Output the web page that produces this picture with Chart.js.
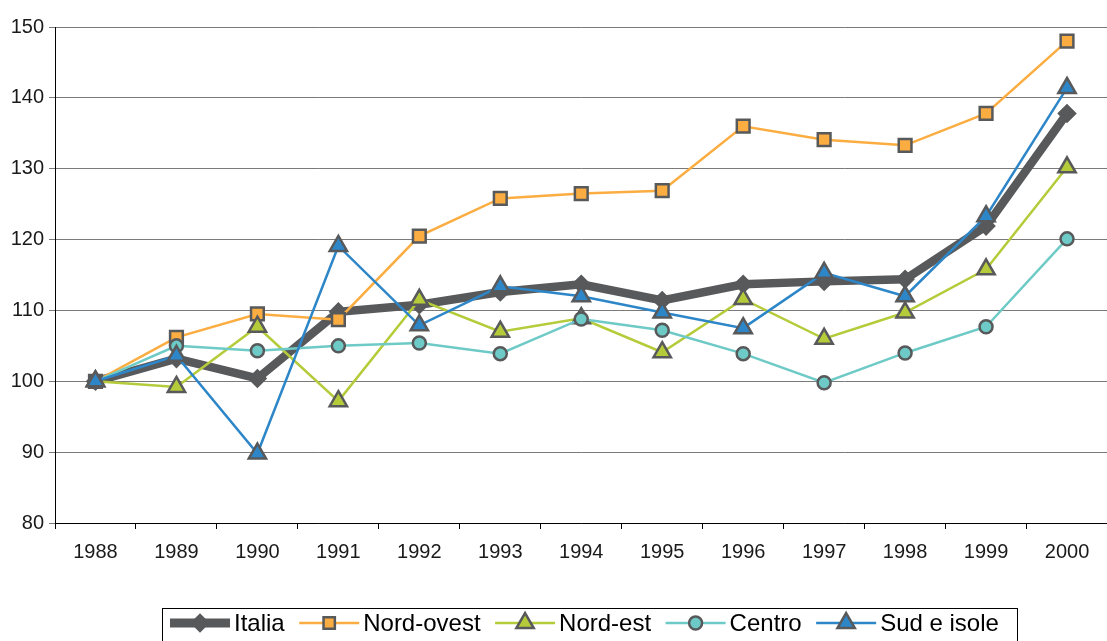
<!DOCTYPE html>
<html>
<head>
<meta charset="utf-8">
<script src="https://cdn.jsdelivr.net/npm/chart.js@4"></script>
<style>
    body { margin: 0; background: #fff; overflow: hidden; }
    #wrap { width: 1120px; height: 641px; position: relative; }
</style>
</head>
<body>
<div id="wrap"><canvas id="chart"></canvas></div>
<script>
// Indici 1988 = 100
const years = ['1988', '1989', '1990', '1991', '1992', '1993', '1994', '1995', '1996', '1997', '1998', '1999', '2000'];
const italia    = [100, 103.2, 100.4, 109.8, 110.8, 112.6, 113.7, 111.4, 113.7, 114.1, 114.4, 121.9, 137.8];
const nordOvest = [100, 106.2, 109.5, 108.7, 120.5, 125.8, 126.5, 126.9, 136.0, 134.1, 133.3, 137.8, 148.0];
const nordEst   = [100, 99.2, 107.7, 97.2, 111.5, 107.0, 108.9, 104.1, 111.6, 106.0, 109.7, 115.8, 130.2];
const centro    = [100, 105.0, 104.3, 105.0, 105.4, 103.9, 108.8, 107.2, 103.9, 99.8, 104.0, 107.7, 120.1];
const sudIsole  = [100, 103.6, 89.8, 119.1, 107.9, 113.4, 112.0, 109.7, 107.5, 115.3, 112.0, 123.3, 141.4];
const yTicks = [80, 90, 100, 110, 120, 130, 140, 150];

const edge = '#58595b';
const font = "'Liberation Sans', Arial, sans-serif";

function series(label, data, color, style, radius, width, order) {
    return {
        label, data, order,
        borderColor: color,
        borderWidth: width,
        pointStyle: style,
        pointRadius: radius,
        pointHoverRadius: radius,
        pointBackgroundColor: style === 'rectRot' ? edge : color,
        pointBorderColor: edge,
        pointBorderWidth: 2.5,
        tension: 0
    };
}

// legend drawn like the spreadsheet one: line sample with marker in the middle
const boxLegend = {
    id: 'boxLegend',
    afterDraw(chart) {
        const ctx = chart.ctx;
        const sets = chart.data.datasets;
        const y = 623;
        ctx.save();
        ctx.font = '24px ' + font;
        const sample = 60, gapText = 4, gapItem = 14.5;
        let x = 170;
        const start = x;
        sets.forEach(ds => {
            ctx.strokeStyle = ds.borderColor;
            ctx.lineWidth = ds.label === 'Italia' ? 9 : ds.borderWidth;
            ctx.beginPath();
            ctx.moveTo(x, y);
            ctx.lineTo(x + sample, y);
            ctx.stroke();
            ctx.fillStyle = ds.pointBackgroundColor;
            ctx.strokeStyle = ds.pointBorderColor;
            ctx.lineWidth = ds.pointBorderWidth;
            const r = ds.pointStyle === 'rect' ? 8 : ds.pointRadius;
            Chart.helpers.drawPoint(ctx, { pointStyle: ds.pointStyle, radius: r, borderWidth: ds.pointBorderWidth, rotation: 0 }, x + sample / 2, y);
            x += sample + gapText;
            ctx.fillStyle = '#000';
            ctx.textBaseline = 'middle';
            ctx.fillText(ds.label, x, y + 1);
            x += ctx.measureText(ds.label).width + gapItem;
        });
        ctx.strokeStyle = '#000';
        ctx.lineWidth = 1;
        ctx.strokeRect(start - 7.5, 608.5, Math.round(x - gapItem + 19 - start + 7), 40);
        ctx.restore();
    }
};

const chart = new Chart(document.getElementById('chart'), {
    type: 'line',
    data: {
        labels: years,
        datasets: [
            series('Italia', italia, edge, 'rectRot', 8, 8.5, 5),
            series('Nord-ovest', nordOvest, '#fbad42', 'rect', 9, 2.5, 4),
            series('Nord-est', nordEst, '#b5cb3a', 'triangle', 10, 2.5, 3),
            series('Centro', centro, '#6ecac6', 'circle', 6.5, 2.5, 2),
            series('Sud e isole', sudIsole, '#2d86c8', 'triangle', 10, 2.5, 1)
        ]
    },
    options: {
        responsive: true,
        maintainAspectRatio: false,
        animation: false,
        layout: { padding: { top: 27, bottom: 66, left: 0, right: 0 } },
        plugins: {
            legend: { display: false },
            tooltip: { enabled: false }
        },
        scales: {
            x: {
                offset: true,
                border: { display: true, color: '#000', width: 1 },
                grid: { offset: true, drawOnChartArea: false, drawTicks: true, tickLength: 6, color: '#000' },
                ticks: { color: '#1a1a1a', font: { size: 20, family: font }, padding: 11, maxRotation: 0 }
            },
            y: {
                min: 80,
                max: 150,
                afterBuildTicks: (scale) => { scale.ticks = yTicks.map(v => ({ value: v })); },
                afterFit: (scale) => { scale.width = 55; },
                border: { display: true, color: '#000', width: 1 },
                grid: { color: '#7a7a7a', lineWidth: 1, tickLength: 6 },
                ticks: { color: '#1a1a1a', font: { size: 20, family: font }, padding: 5 }
            }
        }
    },
    plugins: [boxLegend]
});
</script>
</body>
</html>
